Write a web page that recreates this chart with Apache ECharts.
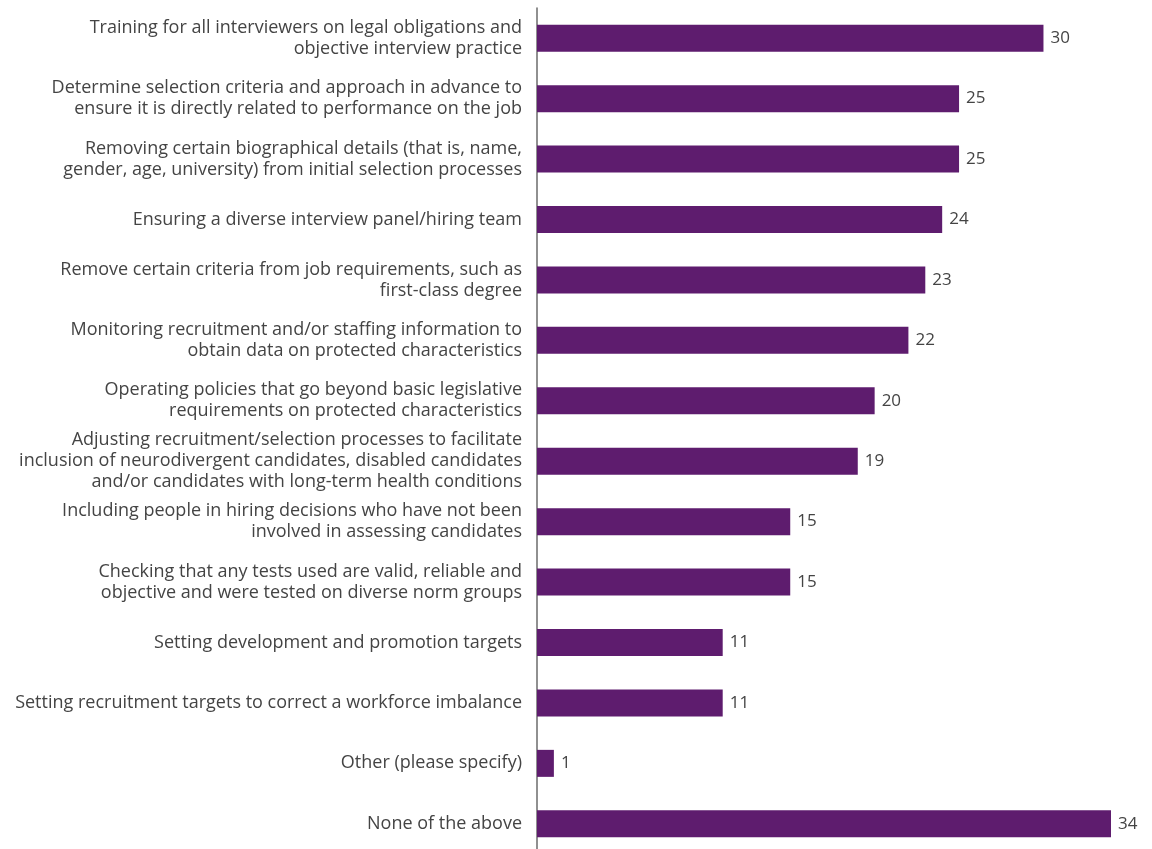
<!DOCTYPE html>
<html>
<head>
<meta charset="utf-8">
<style>
  html, body { margin: 0; padding: 0; background: #ffffff; overflow: hidden; }
  #chart { width: 1152px; height: 860px; }
</style>
<script src="https://cdn.jsdelivr.net/npm/echarts@6/dist/echarts.min.js"></script>
</head>
<body>
<div id="chart"></div>
<script>
// Measures used to improve fairness in recruitment (% of respondents)
const categories = [
  'Training for all interviewers on legal obligations and\nobjective interview practice',
  'Determine selection criteria and approach in advance to\nensure it is directly related to performance on the job',
  'Removing certain biographical details (that is, name,\ngender, age, university) from initial selection processes',
  'Ensuring a diverse interview panel/hiring team',
  'Remove certain criteria from job requirements, such as\nfirst-class degree',
  'Monitoring recruitment and/or staffing information to\nobtain data on protected characteristics',
  'Operating policies that go beyond basic legislative\nrequirements on protected characteristics',
  'Adjusting recruitment/selection processes to facilitate\ninclusion of neurodivergent candidates, disabled candidates\nand/or candidates with long-term health conditions',
  'Including people in hiring decisions who have not been\ninvolved in assessing candidates',
  'Checking that any tests used are valid, reliable and\nobjective and were tested on diverse norm groups',
  'Setting development and promotion targets',
  'Setting recruitment targets to correct a workforce imbalance',
  'Other (please specify)',
  'None of the above'
];
const values = [30, 25, 25, 24, 23, 22, 20, 19, 15, 15, 11, 11, 1, 34];

const FONT = '"Open Sans", Lato, sans-serif';

const chart = echarts.init(document.getElementById('chart'), null, { renderer: 'canvas' });
chart.setOption({
  animation: false,
  backgroundColor: '#ffffff',
  grid: { left: 537, right: 41, top: 8, height: 846, containLabel: false },
  xAxis: {
    type: 'value',
    min: 0,
    max: 34,
    show: false
  },
  yAxis: {
    type: 'category',
    data: categories,
    inverse: true,
    axisLine: { show: true, lineStyle: { color: '#6b6b6b', width: 1.5 } },
    axisTick: { show: false },
    axisLabel: {
      margin: 15,
      color: '#444444',
      fontFamily: FONT,
      fontSize: 18,
      lineHeight: 21,
      align: 'right'
    }
  },
  series: [{
    type: 'bar',
    data: values,
    barWidth: 27,
    itemStyle: { color: '#5e1c6e' },
    label: {
      show: true,
      position: 'right',
      distance: 7,
      color: '#444444',
      fontFamily: FONT,
      fontSize: 17
    }
  }]
});
</script>
</body>
</html>
